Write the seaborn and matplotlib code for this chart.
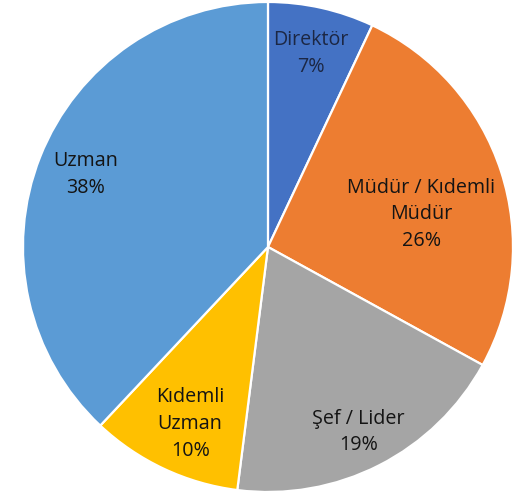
import matplotlib
matplotlib.use("Agg")
import matplotlib.pyplot as plt
import numpy as np
import seaborn as sns

# data
labels = ["Direktör", "Müdür / Kıdemli\nMüdür", "Şef / Lider", "Kıdemli\nUzman", "Uzman"]
shares = [7, 26, 19, 10, 38]
colors = ["#4472C4", "#ED7D31", "#A5A5A5", "#FFC000", "#5B9BD5"]
text_colors = ["#1c2744", "#141414", "#141414", "#141414", "#141414"]

# label placement: fraction of radius and angle shift (deg) per wedge
label_r = [0.81, 0.64, 0.84, 0.79, 0.80]
label_shift = [0, -6, -1, 1.5, 0]

sns.set_style("white")
plt.rcParams["font.family"] = ["Open Sans", "DejaVu Sans"]

fig = plt.figure(figsize=(5.12, 4.95), dpi=100)
ax = fig.add_axes([0.0449, 0.0061, 0.957, 0.9899])

wedges, _ = ax.pie(
    shares,
    colors=colors,
    startangle=90,
    counterclock=False,
    radius=1.0,
    wedgeprops=dict(edgecolor="white", linewidth=1.6),
)

for w, lab, sh, r, d, tc in zip(wedges, labels, shares, label_r, label_shift, text_colors):
    mid = np.deg2rad((w.theta1 + w.theta2) / 2 + d)
    ax.text(r * np.cos(mid), r * np.sin(mid), f"{lab}\n{sh}%",
            ha="center", va="center", fontsize=14.2, color=tc,
            linespacing=1.45)

ax.set_xlim(-1, 1)
ax.set_ylim(-1, 1)
ax.set_aspect("equal")
ax.axis("off")

fig.savefig("out.png", dpi=100)
plt.close(fig)
